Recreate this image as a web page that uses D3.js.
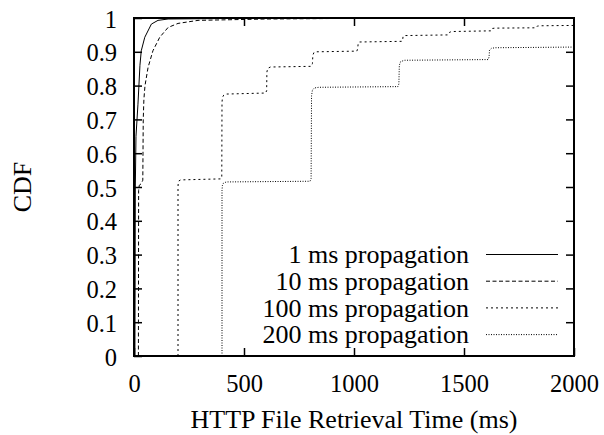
<!DOCTYPE html>
<html>
<head>
<meta charset="utf-8">
<script src="https://cdn.jsdelivr.net/npm/d3@7"></script>
<style>
  body { margin: 0; background: #fff; }
  text { font-family: "Liberation Serif", "Times New Roman", serif; fill: #000; }
</style>
</head>
<body>
<div class="cdf-plot"></div>
<script>
// tick values
const xTicks = [0, 500, 1000, 1500, 2000];
const yTicks = [0, 0.1, 0.2, 0.3, 0.4, 0.5, 0.6, 0.7, 0.8, 0.9, 1];

// legend names
const seriesNames = ["1 ms propagation", "10 ms propagation", "100 ms propagation", "200 ms propagation"];

// [time ms, cdf]
const cdf1ms = [[4, 0], [5, 0.2], [6, 0.5], [9, 0.65], [18, 0.745], [27, 0.86], [33, 0.903],
    [49, 0.943], [79, 0.982], [109, 0.993], [155, 0.997], [500, 0.999], [2000, 1]];

const cdf10ms = [[20, 0], [21, 0.49], [24, 0.505], [33, 0.51], [40, 0.52], [42, 0.7], [45, 0.76],
    [50, 0.8], [64, 0.854], [86, 0.903], [117, 0.943], [155, 0.972], [200, 0.984], [291, 0.993],
    [600, 0.997], [1200, 1.0], [2000, 1.0]];

const cdf100ms = [[200, 0], [200, 0.5], [201, 0.512], [204, 0.518], [212, 0.521], [395, 0.524],
    [399, 0.53], [400, 0.75], [402, 0.765], [408, 0.772], [420, 0.775], [598, 0.778],
    [603, 0.785], [604, 0.84], [608, 0.851], [620, 0.855], [806, 0.857],
    [811, 0.865], [813, 0.89], [818, 0.898], [830, 0.9], [1013, 0.902],
    [1017, 0.91], [1019, 0.925], [1025, 0.929], [1218, 0.931],
    [1221, 0.935], [1223, 0.945], [1230, 0.948], [1428, 0.95],
    [1432, 0.955], [1435, 0.958], [1445, 0.96], [1622, 0.962],
    [1626, 0.966], [1628, 0.969], [1640, 0.97], [1826, 0.971],
    [1830, 0.974], [1833, 0.976], [1845, 0.977], [2000, 0.978]];

const cdf200ms = [[400, 0], [400, 0.49], [402, 0.505], [407, 0.512], [420, 0.515], [800, 0.517],
    [805, 0.525], [807, 0.77], [811, 0.787], [820, 0.793], [840, 0.795], [1200, 0.797],
    [1204, 0.805], [1206, 0.86], [1212, 0.871], [1230, 0.875], [1610, 0.877],
    [1614, 0.885], [1616, 0.905], [1624, 0.91], [1640, 0.912], [2000, 0.914]];

const allSeries = [cdf1ms, cdf10ms, cdf100ms, cdf200ms];
const dashes = [null, "4,2.5", "2,3", "1,1.5"];

const width = 604;
const height = 435;
const plotLeft = 134, plotRight = 574, plotTop = 18, plotBottom = 356;

const svg = d3.select('.cdf-plot')
    .append('svg')
    .attr('width', width)
    .attr('height', height)

const x = d3.scaleLinear().domain([0, 2000]).range([plotLeft, plotRight]);
const y = d3.scaleLinear().domain([0, 1]).range([plotBottom, plotTop]);

// curves
const line = d3.line()
    .x(function (d) { return x(d[0]); })
    .y(function (d) { return y(d[1]); });

svg.selectAll("path.series")
    .data(allSeries)
    .enter()
    .append("path")
    .attr("class", "series")
    .attr("d", line)
    .attr("fill", "none")
    .attr("stroke", "#000")
    .attr("stroke-width", 1)
    .attr("stroke-dasharray", function (d, i) { return dashes[i]; });

// axes with inward ticks, mirrored on top and right
const tickFont = 24.5;
const wordFont = 26;
svg.append("g")
    .attr("transform", "translate(0," + plotBottom + ")")
    .call(d3.axisBottom(x).tickValues(xTicks).tickSizeInner(-8).tickSizeOuter(0).tickFormat(d3.format("d")))
    .call(g => g.select(".domain").remove())
    .call(g => g.selectAll("text").attr("font-size", tickFont).attr("dy", 0).attr("y", 36));

svg.append("g")
    .attr("transform", "translate(0," + plotTop + ")")
    .call(d3.axisTop(x).tickValues(xTicks.slice(1, -1)).tickSizeInner(-8).tickSizeOuter(0).tickFormat(""))
    .call(g => g.select(".domain").remove());

svg.append("g")
    .attr("transform", "translate(" + plotLeft + ",0)")
    .call(d3.axisLeft(y).tickValues(yTicks).tickSizeInner(-8).tickSizeOuter(0).tickFormat(function (d) { return String(+d.toFixed(1)); }))
    .call(g => g.select(".domain").remove())
    .call(g => g.selectAll("text").attr("font-size", tickFont).attr("x", -17).attr("dy", 0).attr("y", 9));

svg.append("g")
    .attr("transform", "translate(" + plotRight + ",0)")
    .call(d3.axisRight(y).tickValues(yTicks.slice(1, -1)).tickSizeInner(-8).tickSizeOuter(0).tickFormat(""))
    .call(g => g.select(".domain").remove());

svg.selectAll(".tick line").attr("stroke", "#000").attr("stroke-width", 1.5);

// frame
svg.append("rect")
    .attr("x", plotLeft)
    .attr("y", plotTop)
    .attr("width", plotRight - plotLeft)
    .attr("height", plotBottom - plotTop)
    .attr("fill", "none")
    .attr("stroke", "#000")
    .attr("stroke-width", 2);

// legend
const legend = svg.selectAll("g.legend")
    .data(seriesNames)
    .enter()
    .append("g")
    .attr("class", "legend")
    .attr("transform", function (d, i) { return "translate(0," + (254.5 + i * 26.7) + ")"; });

legend.append("text")
    .text(function (d) { return d; })
    .attr("x", 469)
    .attr("y", 8.7)
    .attr("text-anchor", "end")
    .attr("font-size", wordFont);

legend.append("line")
    .attr("x1", 486)
    .attr("x2", 558)
    .attr("stroke", "#000")
    .attr("stroke-width", 1)
    .attr("stroke-dasharray", function (d, i) { return dashes[i]; });

// axis titles
svg.append("text")
    .text("HTTP File Retrieval Time (ms)")
    .attr("x", (plotLeft + plotRight) / 2)
    .attr("y", 428)
    .attr("text-anchor", "middle")
    .attr("font-size", wordFont);

svg.append("text")
    .text("CDF")
    .attr("transform", "translate(31,187) rotate(-90)")
    .attr("text-anchor", "middle")
    .attr("font-size", wordFont);
</script>
</body>
</html>
